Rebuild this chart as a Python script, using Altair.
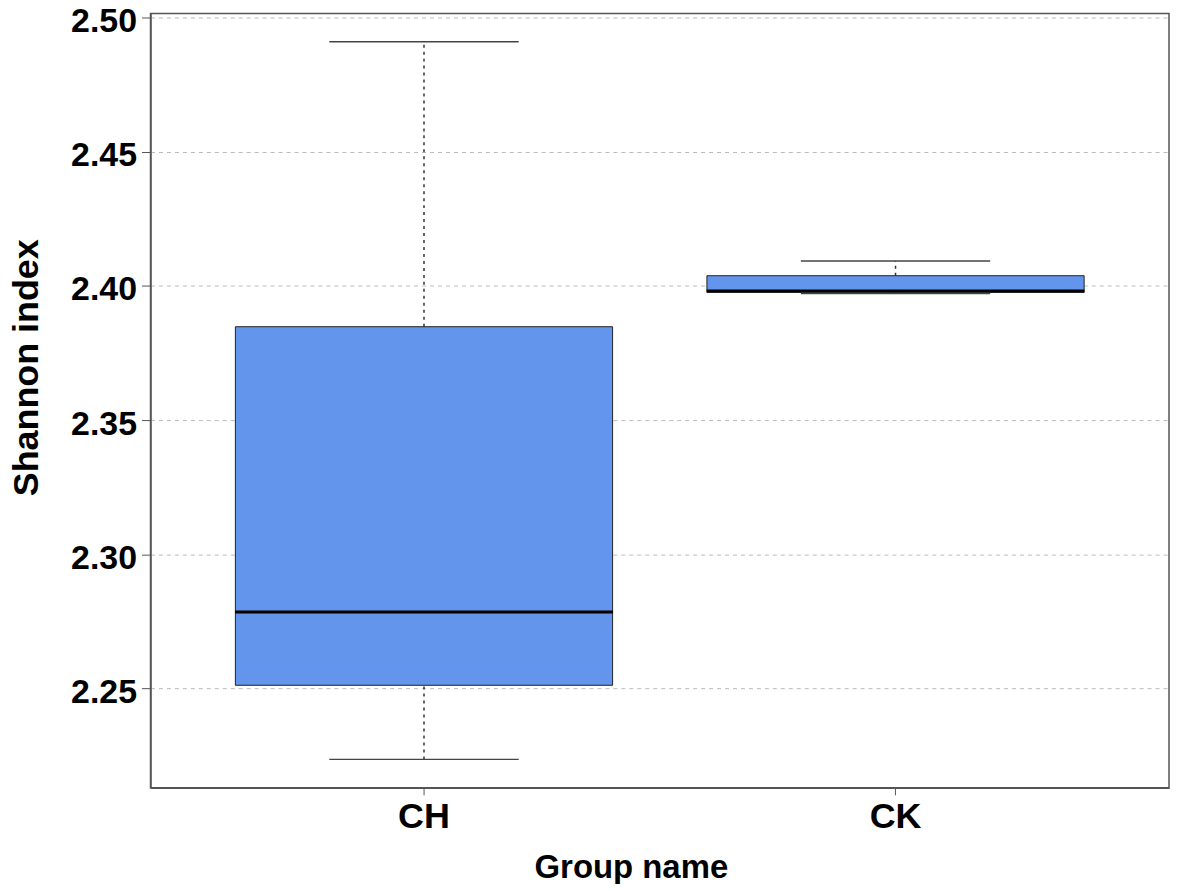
import altair as alt
import pandas as pd

groups = ["CH", "CK"]
whisker_low = [2.2236, 2.3972]
q1 = [2.2512, 2.3976]
median = [2.2785, 2.3981]
q3 = [2.3848, 2.4038]
whisker_high = [2.4910, 2.4093]

y_ticks = [2.25, 2.30, 2.35, 2.40, 2.45, 2.50]

df = pd.DataFrame({
    "group": groups,
    "wlo": whisker_low,
    "q1": q1,
    "med": median,
    "q3": q3,
    "whi": whisker_high,
})

FONT = "Liberation Sans"

x_enc = alt.X(
    "group:N",
    sort=groups,
    scale=alt.Scale(paddingInner=0.2, paddingOuter=0.18),
    axis=alt.Axis(
        title="Group name",
        labelAngle=0,
        labelFontSize=36,
        labelFont=FONT,
        labelFontWeight="bold",
        labelColor="black",
        labelBaseline="alphabetic",
        labelPadding=33,
        tickSize=7,
        tickColor="#555555",
        domainColor="#555555",
        domainWidth=1.5,
        titleFontSize=33,
        titleFont=FONT,
        titleFontWeight="bold",
        titleColor="black",
        titleX=482,
        titleY=90,
        titleBaseline="alphabetic",
        grid=False,
    ),
)

y_scale = alt.Scale(domain=[2.2130, 2.5015], nice=False, zero=False)
y_axis = alt.Axis(
    title="Shannon index",
    values=y_ticks,
    format=".2f",
    labelFontSize=34,
    labelFont=FONT,
    labelFontWeight="bold",
    labelColor="black",
    labelPadding=5,
    labelOffset=4,
    tickSize=9,
    tickColor="#555555",
    domainColor="#555555",
    domainWidth=1.5,
    grid=True,
    gridColor="#bbbbbb",
    gridDash=[4, 4],
    gridWidth=1,
    titleFontSize=36,
    titleFont=FONT,
    titleFontWeight="bold",
    titleColor="black",
    titleX=-113,
    titleY=355,
    titleBaseline="alphabetic",
)

base = alt.Chart(df)

upper_whisker = base.mark_rule(color="#333333", strokeDash=[3, 4], strokeWidth=1.5).encode(
    x=x_enc, y=alt.Y("q3:Q", scale=y_scale, axis=y_axis), y2="whi:Q"
)
lower_whisker = base.mark_rule(color="#333333", strokeDash=[3, 4], strokeWidth=1.5).encode(
    x=x_enc, y=alt.Y("wlo:Q", scale=y_scale, axis=y_axis), y2="q1:Q"
)
box = base.mark_bar(color="#6495ED", stroke="#222222", strokeWidth=1, opacity=1).encode(
    x=x_enc, y=alt.Y("q1:Q", scale=y_scale, axis=y_axis), y2="q3:Q"
)
med = base.mark_tick(color="black", size=379, thickness=3, orient="horizontal", opacity=1).encode(
    x=x_enc, y=alt.Y("med:Q", scale=y_scale, axis=y_axis)
)
cap_hi = base.mark_tick(color="#444444", size=190, thickness=1.5, orient="horizontal", opacity=1).encode(
    x=x_enc, y=alt.Y("whi:Q", scale=y_scale, axis=y_axis)
)
cap_lo = base.mark_tick(color="#444444", size=190, thickness=1.5, orient="horizontal", opacity=1).encode(
    x=x_enc, y=alt.Y("wlo:Q", scale=y_scale, axis=y_axis)
)

chart = (
    alt.layer(upper_whisker, lower_whisker, box, med, cap_hi, cap_lo)
    .properties(
        width=1022,
        height=777,
        background="white",
        autosize=alt.AutoSizeParams(type="none"),
        padding={"left": 143, "top": 4, "right": 3, "bottom": 95},
    )
    .configure_view(stroke="#555555", strokeWidth=1.5)
)

chart.save("out.html", embed_options={"renderer": "svg", "actions": False})
